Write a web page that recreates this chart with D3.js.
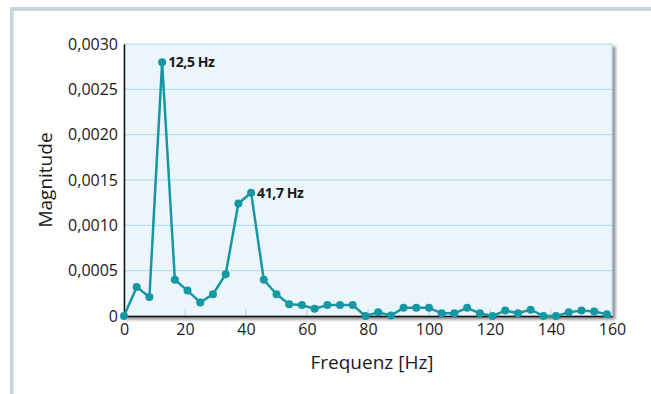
<!DOCTYPE html>
<html>
<head>
<meta charset="utf-8">
<script src="https://cdn.jsdelivr.net/npm/d3@7"></script>
<style>
  html, body { margin: 0; padding: 0; background: #fff; }
  svg { display: block; font-family: "Open Sans", "Noto Sans", sans-serif; }
</style>
</head>
<body>
<div id="chart"></div>
<script>
// Spektrum: Frequenz [Hz] gegen Magnitude
const frequencies = [0, 4.17, 8.33, 12.5, 16.67, 20.83, 25, 29.17, 33.33, 37.5,
    41.67, 45.83, 50, 54.17, 58.33, 62.5, 66.67, 70.83, 75, 79.17,
    83.33, 87.5, 91.67, 95.83, 100, 104.17, 108.33, 112.5, 116.67, 120.83,
    125, 129.17, 133.33, 137.5, 141.67, 145.83, 150, 154.17, 158.33];
const magnitudes = [0, 0.00032, 0.00021, 0.0028, 0.00040, 0.00028, 0.00015, 0.00024, 0.00046, 0.00124,
    0.00136, 0.00040, 0.00024, 0.00013, 0.00012, 0.00008, 0.00012, 0.00012, 0.00012, 0,
    0.00004, 0.000005, 0.00009, 0.00009, 0.00009, 0.00003, 0.00003, 0.00009, 0.00003, 0,
    0.00006, 0.00003, 0.00007, 0, 0, 0.00004, 0.00006, 0.00005, 0.00002];
const xTicks = [0, 20, 40, 60, 80, 100, 120, 140, 160];
const yTicks = [0, 0.0005, 0.001, 0.0015, 0.002, 0.0025, 0.003];
const peakLabels = [{ index: 3, text: '12,5 Hz' }, { index: 10, text: '41,7 Hz' }];

const width = 651, height = 394;
const margin = { top: 44, right: 39, bottom: 78, left: 124 };
const innerW = width - margin.left - margin.right;
const innerH = height - margin.top - margin.bottom;

const svg = d3.select('#chart')
    .append('svg')
    .attr('width', width)
    .attr('height', height);

const defs = svg.append('defs');
const shadow = defs.append('filter')
    .attr('id', 'shadow')
    .attr('x', '-5%').attr('y', '-5%')
    .attr('width', '115%').attr('height', '115%');
shadow.append('feDropShadow')
    .attr('dx', 3).attr('dy', 3)
    .attr('stdDeviation', 1.5)
    .attr('flood-color', '#000')
    .attr('flood-opacity', 0.45);

// frame
svg.append('rect')
    .attr('x', 10).attr('y', 7)
    .attr('width', width - 10).attr('height', 4)
    .attr('fill', '#c6d5dc');
svg.append('rect')
    .attr('x', 10).attr('y', 7)
    .attr('width', 3.5).attr('height', height - 7)
    .attr('fill', '#c6d5dc');

const g = svg.append('g')
    .attr('transform', `translate(${margin.left},${margin.top})`);

const x = d3.scaleLinear().domain([0, 160]).range([0, innerW]);
const y = d3.scaleLinear().domain([0, 0.003]).range([innerH, 0]);

g.append('rect')
    .attr('width', innerW)
    .attr('height', innerH)
    .attr('fill', '#edf5fc')
    .attr('stroke', '#a9daea')
    .attr('stroke-width', 1)
    .attr('filter', 'url(#shadow)');

// grid
g.append('g')
    .selectAll('line')
    .data(yTicks.filter(d => d > 0 && d < 0.003))
    .enter()
    .append('line')
    .attr('x1', 0).attr('x2', innerW)
    .attr('y1', d => y(d)).attr('y2', d => y(d))
    .attr('stroke', '#a9daea')
    .attr('stroke-width', 1);

g.append('g')
    .selectAll('line')
    .data(xTicks.filter(d => d > 0 && d < 160))
    .enter()
    .append('line')
    .attr('x1', d => x(d)).attr('x2', d => x(d))
    .attr('y1', innerH).attr('y2', innerH - 7)
    .attr('stroke', '#a9daea')
    .attr('stroke-width', 1);

// axes
const fmt = d => d === 0 ? '0' : d3.format('.4f')(d).replace('.', ',');

const yAxis = g.append('g')
    .call(d3.axisLeft(y).tickValues(yTicks).tickFormat(fmt).tickSize(0).tickPadding(6));
yAxis.select('.domain').attr('stroke', '#111').attr('stroke-width', 1.5);
yAxis.selectAll('text')
    .attr('font-size', 16)
    .attr('fill', '#1a1a1a')
    .attr('font-family', '"Open Sans", sans-serif');

const xAxis = g.append('g')
    .attr('transform', `translate(0,${innerH})`)
    .call(d3.axisBottom(x).tickValues(xTicks).tickFormat(d => d).tickSize(0).tickPadding(8));
xAxis.select('.domain').attr('stroke', '#111').attr('stroke-width', 1.5);
xAxis.selectAll('text')
    .attr('font-size', 16)
    .attr('fill', '#1a1a1a')
    .attr('font-family', '"Open Sans", sans-serif');

// line + dots
const points = frequencies.map((f, i) => ({ f, m: magnitudes[i] }));

g.append('path')
    .datum(points)
    .attr('fill', 'none')
    .attr('stroke', '#1598a3')
    .attr('stroke-width', 2.5)
    .attr('stroke-linejoin', 'round')
    .attr('d', d3.line().x(d => x(d.f)).y(d => y(d.m)));

g.append('g')
    .selectAll('circle')
    .data(points)
    .enter()
    .append('circle')
    .attr('cx', d => x(d.f))
    .attr('cy', d => y(d.m))
    .attr('r', 4)
    .attr('fill', '#1598a3');

g.append('g')
    .selectAll('text')
    .data(peakLabels)
    .enter()
    .append('text')
    .attr('x', d => x(frequencies[d.index]) + 6)
    .attr('y', d => y(magnitudes[d.index]) + 5)
    .attr('font-size', 14)
    .attr('font-weight', 'bold')
    .attr('letter-spacing', -0.4)
    .attr('fill', '#1a1a1a')
    .text(d => d.text);

// axis titles
svg.append('text')
    .attr('transform', `translate(52,${margin.top + innerH / 2}) rotate(-90)`)
    .attr('text-anchor', 'middle')
    .attr('font-size', 19)
    .attr('fill', '#1a1a1a')
    .text('Magnitude');

svg.append('text')
    .attr('x', margin.left + innerW / 2 + 4)
    .attr('y', 369)
    .attr('text-anchor', 'middle')
    .attr('font-size', 19)
    .attr('fill', '#1a1a1a')
    .text('Frequenz [Hz]');
</script>
</body>
</html>
